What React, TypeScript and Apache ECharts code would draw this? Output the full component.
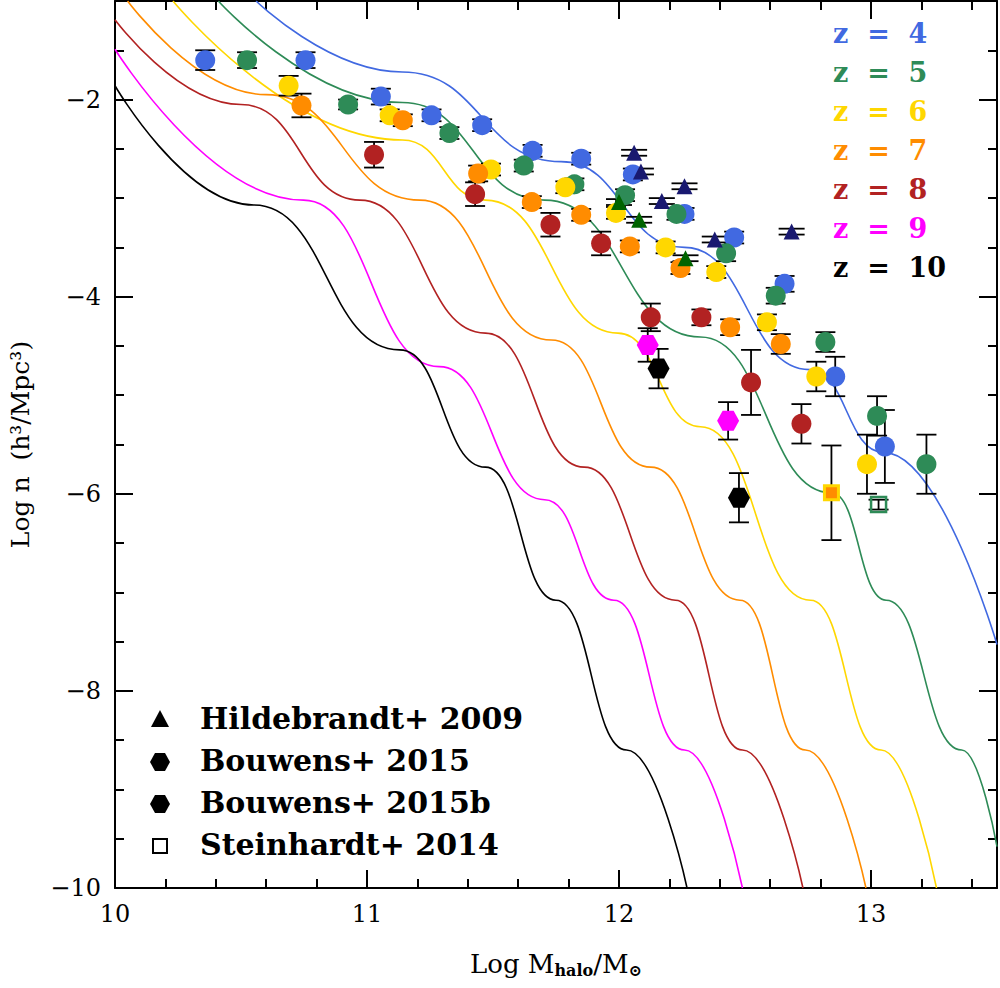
import React, { useEffect, useRef } from "react";
import * as echarts from "echarts";

const z4X = [10.358, 10.756, 11.055, 11.256, 11.457, 11.657, 11.85, 12.055, 12.26, 12.457, 12.657, 12.858, 13.055];
const z4Y = [-1.6, -1.6, -1.97, -2.16, -2.26, -2.52, -2.6, -2.76, -3.16, -3.4, -3.87, -4.81, -5.52];
const z4E = [0.1, 0.08, 0.08, 0.06, 0.06, 0.06, 0.06, 0.06, 0.06, 0.06, 0.08, 0.2, 0.37];
const z5X = [10.524, 10.925, 11.327, 11.622, 11.823, 12.024, 12.228, 12.425, 12.622, 12.819, 13.024, 13.22];
const z5Y = [-1.6, -2.05, -2.34, -2.67, -2.86, -2.97, -3.16, -3.56, -3.99, -4.46, -5.21, -5.7];
const z5E = [0.08, 0.05, 0.06, 0.06, 0.06, 0.06, 0.06, 0.08, 0.08, 0.1, 0.2, 0.3];
const z6X = [10.689, 11.09, 11.492, 11.787, 11.988, 12.185, 12.386, 12.587, 12.783, 12.984];
const z6Y = [-1.86, -2.16, -2.71, -2.89, -3.15, -3.5, -3.75, -4.26, -4.81, -5.7];
const z6E = [0.1, 0.06, 0.06, 0.06, 0.06, 0.06, 0.06, 0.08, 0.15, 0.3];
const z7X = [10.74, 11.142, 11.441, 11.654, 11.85, 12.043, 12.244, 12.441, 12.642];
const z7Y = [-2.06, -2.21, -2.75, -3.04, -3.17, -3.49, -3.71, -4.31, -4.48];
const z7E = [0.12, 0.06, 0.08, 0.06, 0.06, 0.06, 0.06, 0.08, 0.1];
const z8X = [11.028, 11.429, 11.728, 11.929, 12.126, 12.327, 12.524, 12.724];
const z8Y = [-2.56, -2.96, -3.27, -3.46, -4.21, -4.21, -4.87, -5.29];
const z8E = [0.13, 0.12, 0.12, 0.12, 0.14, 0.08, 0.33, 0.2];
const z9X = [12.114, 12.433];
const z9Y = [-4.49, -5.26];
const z9E = [0.17, 0.19];
const z10X = [12.157, 12.476];
const z10Y = [-4.73, -6.04];
const z10E = [0.2, 0.25];
const hildNavyX = [12.06, 12.087, 12.26, 12.17, 12.38, 12.685];
const hildNavyY = [-2.54, -2.73, -2.88, -3.03, -3.42, -3.34];
const hildGreenX = [12.0, 12.08, 12.264];
const hildGreenY = [-3.04, -3.22, -3.61];
const sqOrange = [12.843, -5.99, 0.48];
const sqGreen = [13.03, -6.11, 0.05];

const curveZ4 = [[10.56, -1.0], [11.14, -1.72], [11.77, -2.63], [12.26, -3.5], [12.756, -4.74], [13.05, -5.58], [13.5, -7.53]];
const curveZ5 = [[10.41, -1.0], [11.14, -2.03], [11.705, -3.02], [12.323, -4.41], [12.843, -5.99], [13.06, -7.08], [13.36, -8.6], [13.5, -9.58]];
const curveZ6 = [[10.23, -1.0], [11.14, -2.41], [11.47, -3.02], [11.996, -4.37], [12.323, -5.32], [12.76, -7.08], [13.04, -8.6], [13.26, -10]];
const curveZ7 = [[10.05, -1.0], [10.6, -1.95], [11.21, -3.02], [11.732, -4.44], [12.126, -5.73], [12.48, -7.08], [12.74, -8.6], [12.98, -10]];
const curveZ8 = [[10.0, -1.19], [10.5, -2.05], [10.972, -3.02], [11.47, -4.37], [11.862, -5.73], [12.224, -7.08], [12.49, -8.6], [12.73, -10]];
const curveZ9 = [[10.0, -1.49], [10.748, -3.02], [11.287, -4.71], [11.705, -6.06], [11.98, -7.08], [12.26, -8.6], [12.49, -10]];
const curveZ10 = [[10.0, -1.86], [10.551, -3.07], [11.13, -4.54], [11.47, -5.73], [11.75, -7.08], [12.03, -8.6], [12.27, -10]];

const zLabels = ["z  =  4", "z  =  5", "z  =  6", "z  =  7", "z  =  8", "z  =  9", "z  =  10"];
const zColors = ["#4169E1", "#2E8B57", "#FFD700", "#FF8C00", "#B22222", "#FF00FF", "#000000"];
const legendNames = ["Hildebrandt+ 2009", "Bouwens+ 2015", "Bouwens+ 2015b", "Steinhardt+ 2014"];

const HEX = "path://M1,0 L0.5,0.866 L-0.5,0.866 L-1,0 L-0.5,-0.866 L0.5,-0.866 Z";
const FONT = "DejaVu Serif";

function pts(xs: number[], ys: number[], es?: number[]) {
  return xs.map((x, i) => [x, ys[i], es ? es[i] : 0.03]);
}

function errSeries(data: number[][], cap: number) {
  return {
    type: "custom",
    z: 1,
    data,
    renderItem: (params: any, api: any) => {
      const x = api.value(0), y = api.value(1), e = api.value(2);
      const top = api.coord([x, y + e]);
      const bot = api.coord([x, y - e]);
      const style = { stroke: "#000", lineWidth: 1.8 };
      return {
        type: "group",
        children: [
          { type: "line", shape: { x1: top[0], y1: top[1], x2: bot[0], y2: bot[1] }, style },
          { type: "line", shape: { x1: top[0] - cap, y1: top[1], x2: top[0] + cap, y2: top[1] }, style },
          { type: "line", shape: { x1: bot[0] - cap, y1: bot[1], x2: bot[0] + cap, y2: bot[1] }, style },
        ],
      };
    },
  };
}

export default function App() {
  const ref = useRef<HTMLDivElement>(null);
  useEffect(() => {
    document.body.style.margin = "0";
    const chart = echarts.init(ref.current!, null, { renderer: "svg" });
    const curves = [curveZ4, curveZ5, curveZ6, curveZ7, curveZ8, curveZ9, curveZ10];
    const series: any[] = [];
    curves.forEach((c, i) =>
      series.push({ type: "line", data: c, smooth: 0.5, smoothMonotone: "x", showSymbol: false, lineStyle: { color: zColors[i], width: 1.6 }, z: 0 })
    );
    const circ = [pts(z4X, z4Y, z4E), pts(z5X, z5Y, z5E), pts(z6X, z6Y, z6E), pts(z7X, z7Y, z7E), pts(z8X, z8Y, z8E)];
    const hex = [pts(z9X, z9Y, z9E), pts(z10X, z10Y, z10E)];
    const allErr = [...circ.flat(), ...hex.flat(), sqOrange, sqGreen];
    series.push(errSeries(allErr, 10));
    series.push(errSeries([...pts(hildNavyX, hildNavyY), ...pts(hildGreenX, hildGreenY)], 13));
    circ.forEach((d, i) =>
      series.push({ type: "scatter", data: d, symbol: "circle", symbolSize: 20, itemStyle: { color: zColors[i], opacity: 1 }, z: 3 })
    );
    hex.forEach((d, i) =>
      series.push({ type: "scatter", data: d, symbol: HEX, symbolSize: [22, 20], itemStyle: { color: zColors[5 + i], opacity: 1 }, z: 3 })
    );
    series.push({ type: "scatter", data: pts(hildNavyX, hildNavyY), symbol: "triangle", symbolSize: 16, itemStyle: { color: "#191970", opacity: 1 }, z: 4 });
    series.push({ type: "scatter", data: pts(hildGreenX, hildGreenY), symbol: "triangle", symbolSize: 16, itemStyle: { color: "#006400", opacity: 1 }, z: 4 });
    series.push({ type: "scatter", data: [sqOrange], symbol: "rect", symbolSize: 14, itemStyle: { color: "#FF8C00", borderColor: "#FFD700", borderWidth: 3, opacity: 1 }, z: 4 });
    series.push({ type: "scatter", data: [sqGreen], symbol: "rect", symbolSize: 15, itemStyle: { color: "rgba(0,0,0,0)", borderColor: "#2E8B57", borderWidth: 2.5, opacity: 1 }, z: 4 });

    const graphics: any[] = [];
    zLabels.forEach((t, i) =>
      graphics.push({
        type: "text", left: 833, top: 20 + i * 39,
        style: { text: t, fill: zColors[i], font: `bold 27px "${FONT}"` },
      })
    );
    const sym = [
      { type: "polygon", shape: { points: [[160, 710], [151, 727], [169, 727]] } },
      { type: "polygon", shape: { points: [[170, 762], [165, 753], [155, 753], [150, 762], [155, 771], [165, 771]] } },
      { type: "polygon", shape: { points: [[170, 804], [165, 795], [155, 795], [150, 804], [155, 813], [165, 813]] } },
      { type: "rect", shape: { x: 153, y: 839, width: 14, height: 14 } },
    ];
    sym.forEach((s: any, i) =>
      graphics.push({ ...s, style: i === 3 ? { fill: "none", stroke: "#000", lineWidth: 2 } : { fill: "#000" } })
    );
    legendNames.forEach((t, i) =>
      graphics.push({ type: "text", left: 200, top: 703 + i * 42, style: { text: t, fill: "#000", font: `bold 30px "${FONT}"` } })
    );

    const axisCommon = {
      axisLine: { onZero: false, lineStyle: { color: "#000", width: 2 } },
      axisTick: { inside: true, length: 18, lineStyle: { color: "#000", width: 2 } },
      minorTick: { show: true, length: 9, lineStyle: { color: "#000", width: 2 } },
      splitLine: { show: false },
    };
    chart.setOption({
      animation: false,
      grid: { left: 110, right: 1, top: 1, bottom: 100 },
      xAxis: [
        {
          type: "value", min: 10, max: 13.5, interval: 1, ...axisCommon,
          minorTick: { ...axisCommon.minorTick, splitNumber: 5 },
          axisLabel: { color: "#000", fontFamily: FONT, fontSize: 24, margin: 14,
            formatter: (v: number) => (Number.isInteger(v) ? String(v) : "") },
          name: "{a|Log M}{s|halo}{a|/M}{s|⊙}", nameLocation: "middle", nameGap: 62,
          nameTextStyle: { rich: {
            a: { fontFamily: FONT, fontSize: 26, color: "#000" },
            s: { fontFamily: FONT, fontSize: 16, color: "#000", fontWeight: "bold", verticalAlign: "bottom", padding: [12, 0, 0, 0] } } },
        },
        { type: "value", position: "top", min: 10, max: 13.5, interval: 1, ...axisCommon,
          minorTick: { ...axisCommon.minorTick, splitNumber: 5 }, axisLabel: { show: false } },
      ],
      yAxis: [
        {
          type: "value", min: -10, max: -1, interval: 2, ...axisCommon,
          minorTick: { ...axisCommon.minorTick, splitNumber: 4 },
          axisLabel: { color: "#000", fontFamily: FONT, fontSize: 24, margin: 14,
            formatter: (v: number) => (v === -1 ? "" : "\u2212" + String(Math.abs(v))) },
          name: "Log n  (h³/Mpc³)", nameLocation: "middle", nameGap: 82, nameRotate: 90,
          nameTextStyle: { fontFamily: FONT, fontSize: 25, color: "#000" },
        },
        { type: "value", position: "right", min: -10, max: -1, interval: 2, ...axisCommon,
          minorTick: { ...axisCommon.minorTick, splitNumber: 4 }, axisLabel: { show: false } },
      ],
      series,
      graphic: graphics,
    });
    return () => chart.dispose();
  }, []);
  return <div ref={ref} style={{ width: 1000, height: 988 }} />;
}
